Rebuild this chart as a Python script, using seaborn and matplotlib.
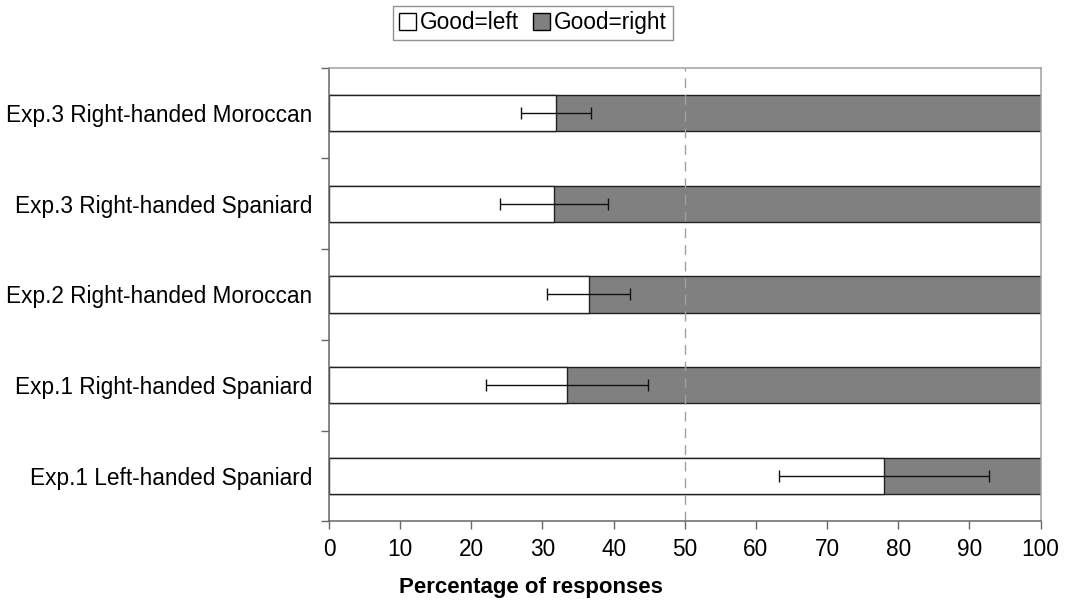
import pandas as pd
import matplotlib
matplotlib.use("Agg")
import matplotlib.pyplot as plt
from matplotlib.patches import Patch
from matplotlib.ticker import FixedLocator
import seaborn as sns

# Values (top to bottom)
groups = ["Exp.3 Right-handed Moroccan", "Exp.3 Right-handed Spaniard",
          "Exp.2 Right-handed Moroccan", "Exp.1 Right-handed Spaniard",
          "Exp.1 Left-handed Spaniard"]
good_left = [31.9, 31.6, 36.5, 33.4, 78.0]
err_half = [4.9, 7.6, 5.8, 11.4, 14.8]
good_right = [100 - v for v in good_left]

df = pd.DataFrame({"group": groups, "left": good_left, "err": err_half,
                   "total": [l + r for l, r in zip(good_left, good_right)]})

sns.set_style("white")
plt.rcParams['font.family'] = ['Liberation Sans', 'DejaVu Sans']
plt.rcParams['text.color'] = 'black'
plt.rcParams['xtick.color'] = 'black'
plt.rcParams['ytick.color'] = 'black'

fig = plt.figure(figsize=(10.7, 6.04), dpi=100)
ax = fig.add_axes([0.3075, 0.137, 0.665, 0.751])

# full bar = Good=right (grey), white bar on top = Good=left
sns.barplot(data=df, y="group", x="total", color="#808080", edgecolor="#222222",
            linewidth=1, width=0.4, saturation=1, orient="h", ax=ax)
sns.barplot(data=df, y="group", x="left", color="white", edgecolor="#222222",
            linewidth=1, width=0.4, saturation=1, orient="h", ax=ax)

ax.errorbar(df["left"], range(len(groups)), xerr=df["err"], fmt="none",
            ecolor="#111111", elinewidth=1, capsize=4, capthick=1)

ax.axvline(50, color="#a0a0a0", linestyle=(0, (7, 5)), linewidth=1)

ax.set_xlim(0, 100)
ax.set_ylim(len(groups) - 0.5, -0.5)
ax.set_xticks(range(0, 101, 10))
ax.yaxis.set_minor_locator(FixedLocator([i - 0.5 for i in range(len(groups) + 1)]))
ax.tick_params(axis="y", which="major", length=0, pad=12, labelsize=16.3, labelcolor="black")
ax.tick_params(axis="y", which="minor", length=6, width=1, color="#666666", direction="out", left=True)
ax.tick_params(axis="x", length=6, width=1, color="#666666", direction="out", bottom=True,
               labelsize=16.3, labelcolor="black", pad=6)

for s in ["left", "bottom"]:
    ax.spines[s].set_color("#666666")
    ax.spines[s].set_linewidth(1.1)
for s in ["top", "right"]:
    ax.spines[s].set_color("#a0a0a0")
    ax.spines[s].set_linewidth(1.1)

ax.set_ylabel("")
ax.set_xlabel("")
fig.text(0.496, 1 - 588 / 604, "Percentage of responses", fontsize=16, fontweight="bold",
         ha="center", va="center")

handles = [Patch(facecolor="white", edgecolor="black", label="Good=left"),
           Patch(facecolor="#808080", edgecolor="black", label="Good=right")]
leg = fig.legend(handles=handles, loc="center", bbox_to_anchor=(0.498, 0.962), ncol=2,
                 fontsize=16.3, frameon=True, fancybox=False, handlelength=0.75,
                 handleheight=0.75, handletextpad=0.2, columnspacing=0.6,
                 borderpad=0.25, borderaxespad=0)
leg.get_frame().set_edgecolor("#777777")
leg.get_frame().set_linewidth(1)

fig.savefig("out.png", dpi=100)
